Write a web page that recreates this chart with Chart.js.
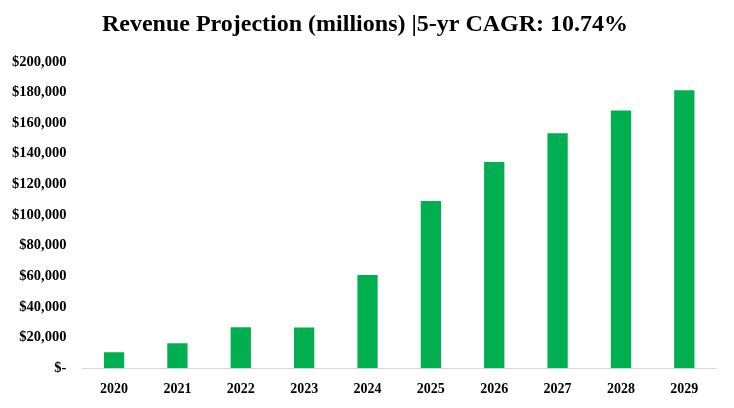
<!DOCTYPE html>
<html>
<head>
<meta charset="utf-8">
<script src="https://cdn.jsdelivr.net/npm/chart.js@4"></script>
<style>
  html, body { margin: 0; padding: 0; background: #fff; }
  #wrap { width: 734px; height: 408px; }
</style>
</head>
<body>
<div id="wrap"><canvas id="chart-area"></canvas></div>
<script>
var years = ['2020', '2021', '2022', '2023', '2024', '2025', '2026', '2027', '2028', '2029'];
var revenue = [10400, 16300, 26700, 26500, 60800, 109200, 134600, 153400, 168200, 181500];
var yTicks = [0, 20000, 40000, 60000, 80000, 100000, 120000, 140000, 160000, 180000, 200000];

var serif = '"Liberation Serif", "DejaVu Serif", serif';

var config = {
    type: 'bar',
    data: {
        labels: years,
        datasets: [{
            data: revenue,
            backgroundColor: '#00B050',
            categoryPercentage: 1.0,
            barPercentage: 0.32
        }]
    },
    options: {
        responsive: true,
        maintainAspectRatio: false,
        animation: false,
        layout: { padding: { left: -4, right: 18, top: 8, bottom: -3 } },
        plugins: {
            legend: { display: false },
            tooltip: { enabled: false },
            title: {
                display: true,
                // leading spaces nudge the centred title right, like the original
                text: '   Revenue Projection (millions) |5-yr CAGR: 10.74%',
                color: '#000',
                font: { family: serif, size: 24, weight: 'bold' },
                padding: { top: 2, bottom: 23 }
            }
        },
        scales: {
            x: {
                grid: { display: false, drawTicks: false },
                border: { display: true, color: '#d9d9d9', width: 1 },
                ticks: {
                    color: '#000',
                    padding: 13,
                    font: { family: serif, size: 14, weight: 'bold' }
                }
            },
            y: {
                min: 0,
                max: 200000,
                afterBuildTicks: function (axis) {
                    axis.ticks = yTicks.map(function (v) { return { value: v }; });
                },
                grid: { display: false, drawTicks: false },
                border: { display: false },
                ticks: {
                    color: '#000',
                    padding: 16,
                    font: { family: serif, size: 14.5, weight: 'bold' },
                    callback: function (v) {
                        return v === 0 ? '$-' : '$' + v.toLocaleString('en-US');
                    }
                }
            }
        }
    }
};

var ctx = document.getElementById('chart-area').getContext('2d');
window.myBar = new Chart(ctx, config);
</script>
</body>
</html>
